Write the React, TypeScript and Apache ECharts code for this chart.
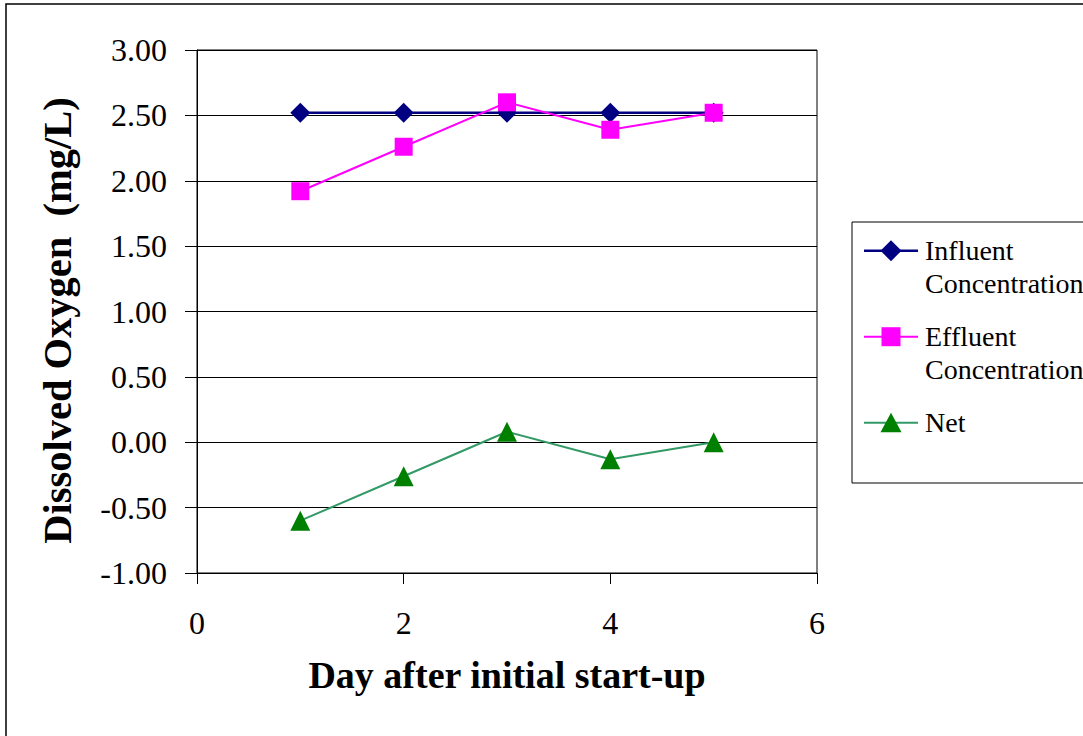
import React, { useEffect, useRef } from "react";
import * as echarts from "echarts";

const days = [1, 2, 3, 4, 5];
const influent = [2.52, 2.52, 2.52, 2.52, 2.52];
const effluent = [1.92, 2.26, 2.6, 2.39, 2.52];
const net = [-0.6, -0.26, 0.08, -0.13, 0.0];

const seriesNames = ["Influent Concentration", "Effluent Concentration", "Net"];
const legendLines = [["Influent", "Concentration"], ["Effluent", "Concentration"], ["Net"]];
const yTitle = "Dissolved Oxygen  (mg/L)";
const xTitle = "Day after initial start-up";

const FONT = "'Liberation Serif', 'Times New Roman', serif";
const NAVY = "#000080";
const MAGENTA = "#FF00FF";
const GREEN_LINE = "#339966";
const GREEN = "#008000";

export default function App() {
  const ref = useRef<HTMLDivElement>(null);
  useEffect(() => {
    if (!ref.current) return;
    const chart = echarts.init(ref.current, null, { renderer: "svg" });

    const lx = 852, ly = 222, lw = 232, lh = 261;
    const iconX0 = 864, iconX1 = 918, textX = 925;
    const itemY = [250.7, 336.7, 422.7];
    const legendGraphics: any[] = [
      { type: "rect", shape: { x: lx, y: ly, width: lw, height: lh }, style: { fill: "#fff", stroke: "#000", lineWidth: 1 }, z: 10 },
    ];
    const colors = [NAVY, MAGENTA, GREEN_LINE];
    itemY.forEach((y, i) => {
      legendGraphics.push({ type: "line", shape: { x1: iconX0, y1: y, x2: iconX1, y2: y }, style: { stroke: colors[i], lineWidth: i === 0 ? 2.5 : 2 }, z: 11 });
      const cx = (iconX0 + iconX1) / 2;
      if (i === 0) {
        legendGraphics.push({ type: "polygon", shape: { points: [[cx, y - 10.5], [cx + 10.5, y], [cx, y + 10.5], [cx - 10.5, y]] }, style: { fill: NAVY }, z: 12 });
      } else if (i === 1) {
        legendGraphics.push({ type: "rect", shape: { x: cx - 9.5, y: y - 9.5, width: 19, height: 19 }, style: { fill: MAGENTA }, z: 12 });
      } else {
        legendGraphics.push({ type: "polygon", shape: { points: [[cx, y - 10], [cx + 10.5, y + 9.5], [cx - 10.5, y + 9.5]] }, style: { fill: GREEN }, z: 12 });
      }
      legendLines[i].forEach((t, k) => {
        legendGraphics.push({
          type: "text", x: textX, y: y + k * 33, z: 12,
          style: { text: t, font: `28px ${FONT}`, fill: "#000", textAlign: "left", textVerticalAlign: "middle" },
        });
      });
    });

    const mk = (name: string, data: number[], color: string, mcolor: string, symbol: string, size: number, width: number) => ({
      name,
      type: "line",
      data: days.map((d, i) => [d, data[i]]),
      symbol,
      symbolSize: size,
      lineStyle: { color, width },
      itemStyle: { color: mcolor },
      z: 5,
    });

    chart.setOption({
      animation: false,
      backgroundColor: "#fff",
      grid: { left: 197, top: 50, right: 266, bottom: 163, show: true, borderColor: "#000", borderWidth: 1, backgroundColor: "#fff" },
      xAxis: {
        type: "value", min: 0, max: 6, interval: 2,
        name: xTitle, nameLocation: "middle", nameGap: 83,
        nameTextStyle: { fontFamily: FONT, fontSize: 38, fontWeight: "bold", color: "#000" },
        axisLine: { show: true, onZero: false, lineStyle: { color: "#000", width: 1 } },
        axisTick: { show: true, length: 11, inside: false, lineStyle: { color: "#000" } },
        axisLabel: { fontFamily: FONT, fontSize: 32, color: "#000", margin: 34 },
        splitLine: { show: false },
      },
      yAxis: {
        type: "value", min: -1, max: 3, interval: 0.5,
        name: yTitle, nameLocation: "middle", nameGap: 119, nameRotate: 90,
        nameTextStyle: { fontFamily: FONT, fontSize: 40.5, fontWeight: "bold", color: "#000", padding: [0, 18, 0, 0] },
        axisLine: { show: true, lineStyle: { color: "#000", width: 1 } },
        axisTick: { show: true, length: 12, inside: false, lineStyle: { color: "#000" } },
        axisLabel: { fontFamily: FONT, fontSize: 32, color: "#000", margin: 30, formatter: (v: number) => v.toFixed(2) },
        splitLine: { show: true, lineStyle: { color: "#000", width: 1 } },
      },
      series: [
        mk(seriesNames[0], influent, NAVY, NAVY, "diamond", 20, 2.5),
        mk(seriesNames[1], effluent, MAGENTA, MAGENTA, "rect", 18, 2),
        mk(seriesNames[2], net, GREEN_LINE, GREEN, "triangle", 20, 2),
      ],
      graphic: [
        { type: "rect", shape: { x: 6, y: 4, width: 1100, height: 760 }, style: { fill: "none", stroke: "#000", lineWidth: 1.5 }, z: 1 },
        ...legendGraphics,
      ],
    });
    return () => chart.dispose();
  }, []);
  return <div ref={ref} style={{ position: "fixed", left: 0, top: 0, width: 1083, height: 736 }} />;
}
